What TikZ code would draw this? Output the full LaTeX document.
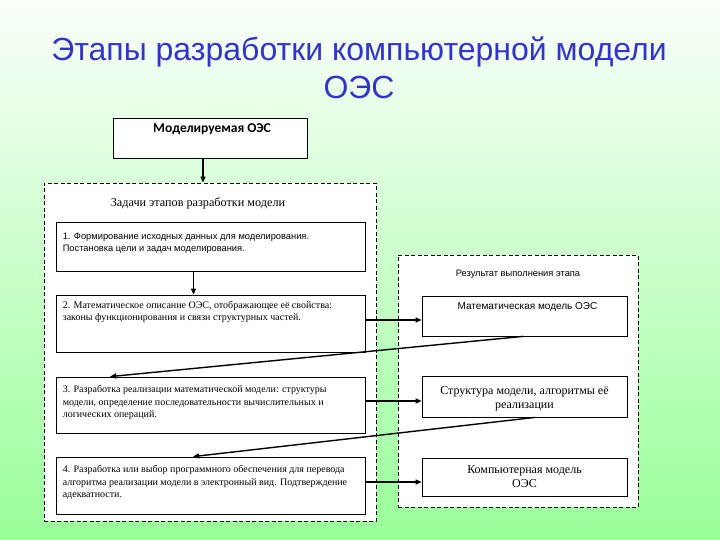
\documentclass[tikz,border=0pt]{standalone}
\usepackage{fontspec}
\setmainfont{Liberation Serif}
\setsansfont{Liberation Sans}
\newfontfamily\calib{Carlito}
\usetikzlibrary{arrows.meta}
\definecolor{bgtop}{RGB}{250,255,250}
\definecolor{bgmid}{RGB}{205,255,205}
\definecolor{bgbot}{RGB}{153,255,153}
\definecolor{titleblue}{RGB}{51,51,204}
\begin{document}
\begin{tikzpicture}[x=1pt,y=-1pt,
  box/.style={draw=black, line width=0.8pt, fill=white, inner sep=0pt},
  dbox/.style={draw=black, line width=0.8pt, fill=white, inner sep=0pt, dash pattern=on 4pt off 2.5pt},
  arr/.style={-{Triangle[length=6pt,width=5pt]}, line width=1.4pt},
  sanstxt/.style={font=\sffamily\fontsize{9.3}{12}\selectfont, inner sep=0pt},
  seriftxt/.style={font=\rmfamily\fontsize{10}{12.5}\selectfont, inner sep=0pt},
  bigserif/.style={font=\rmfamily\fontsize{12}{14}\selectfont, inner sep=0pt, align=center}
]
\useasboundingbox (0,0) rectangle (720,540);
\shade[top color=bgtop, middle color=bgmid, bottom color=bgbot] (0,0) rectangle (720,540);

% title
\node[font=\sffamily\fontsize{32}{38}\selectfont, text=titleblue, align=center, inner sep=0pt] (title) at (359,68)
  {Этапы разработки компьютерной модели\\ОЭС};

% containers
\node[dbox, minimum width=332pt, minimum height=338pt] (L) at (210,352) {};
\node[dbox, minimum width=240pt, minimum height=252pt] (R) at (518,381) {};

% boxes
\node[box, minimum width=194pt, minimum height=40pt] (oes) at (210,138) {};
\node[box, minimum width=309pt, minimum height=49pt] (b1) at (210.5,246.5) {};
\node[box, minimum width=309pt, minimum height=57pt] (b2) at (210.5,323.5) {};
\node[box, minimum width=309pt, minimum height=56pt] (b3) at (210.5,405) {};
\node[box, minimum width=309pt, minimum height=57pt] (b4) at (210.5,485.5) {};
\node[box, minimum width=205pt, minimum height=40pt] (r1) at (524.5,316) {};
\node[box, minimum width=205pt, minimum height=41pt] (r2) at (524.5,396.5) {};
\node[box, minimum width=205pt, minimum height=38pt] (r3) at (524.5,477) {};

% texts
\node[font=\calib\bfseries\fontsize{13.5}{15}\selectfont, inner sep=0pt, anchor=base] (toes) at ([shift={(2,15)}]oes.north) {Моделируемая ОЭС};
\node[font=\rmfamily\fontsize{12.2}{14}\selectfont, inner sep=0pt, anchor=base] (tL) at ([shift={(-12,24)}]L.north) {Задачи этапов разработки модели};
\node[sanstxt, align=left, anchor=base west] (t1) at ([shift={(7,30)}]b1.north west)
  {1. Формирование исходных данных для моделирования.\\Постановка цели и задач моделирования.};
\node[seriftxt, align=left, anchor=base west] (t2) at ([shift={(7,26)}]b2.north west)
  {2. Математическое описание ОЭС, отображающее её свойства:\\законы функционирования и связи структурных частей.};
\node[seriftxt, align=left, anchor=base west] (t3) at ([shift={(7,41)}]b3.north west)
  {3. Разработка реализации математической модели: структуры\\модели, определение последовательности вычислительных и\\логических операций.};
\node[seriftxt, align=left, anchor=base west] (t4) at ([shift={(7,41)}]b4.north west)
  {4. Разработка или выбор программного обеспечения для перевода\\алгоритма реализации модели в электронный вид. Подтверждение\\адекватности.};
\node[sanstxt, anchor=base] (tR) at ([shift={(0,22)}]R.north) {Результат выполнения этапа};
\node[font=\sffamily\fontsize{10}{12}\selectfont, inner sep=0pt, anchor=base] (tr1) at ([shift={(3,14)}]r1.north) {Математическая модель ОЭС};
\node[bigserif, anchor=base] (tr2) at ([shift={(0,33)}]r2.north) {Структура модели, алгоритмы её\\реализации};
\node[bigserif, anchor=base] (tr3) at ([shift={(0,30)}]r3.north) {Компьютерная модель\\ОЭС};

% connectors
\draw[arr] ([xshift=-7pt]oes.south) -- ([xshift=-7pt]oes.south |- L.north);
\draw[arr] ([xshift=-17pt]b1.south) -- ([xshift=-17pt]b1.south |- b2.north);
\draw[arr] ([yshift=3.5pt]b2.east) -- ([yshift=3.5pt]b2.east -| r1.west);
\draw[arr] ([yshift=4pt]b3.east) -- ([yshift=4pt]b3.east -| r2.west);
\draw[arr] ([yshift=3.5pt]b4.east) -- ([yshift=3.5pt]b4.east -| r3.west);
\draw[arr] ([xshift=-1.5pt]r1.south) -- ([xshift=-100.5pt]b3.north);
\draw[arr] ([xshift=10.5pt]r2.south) -- ([xshift=-17.5pt]b4.north);
\end{tikzpicture}
\end{document}
